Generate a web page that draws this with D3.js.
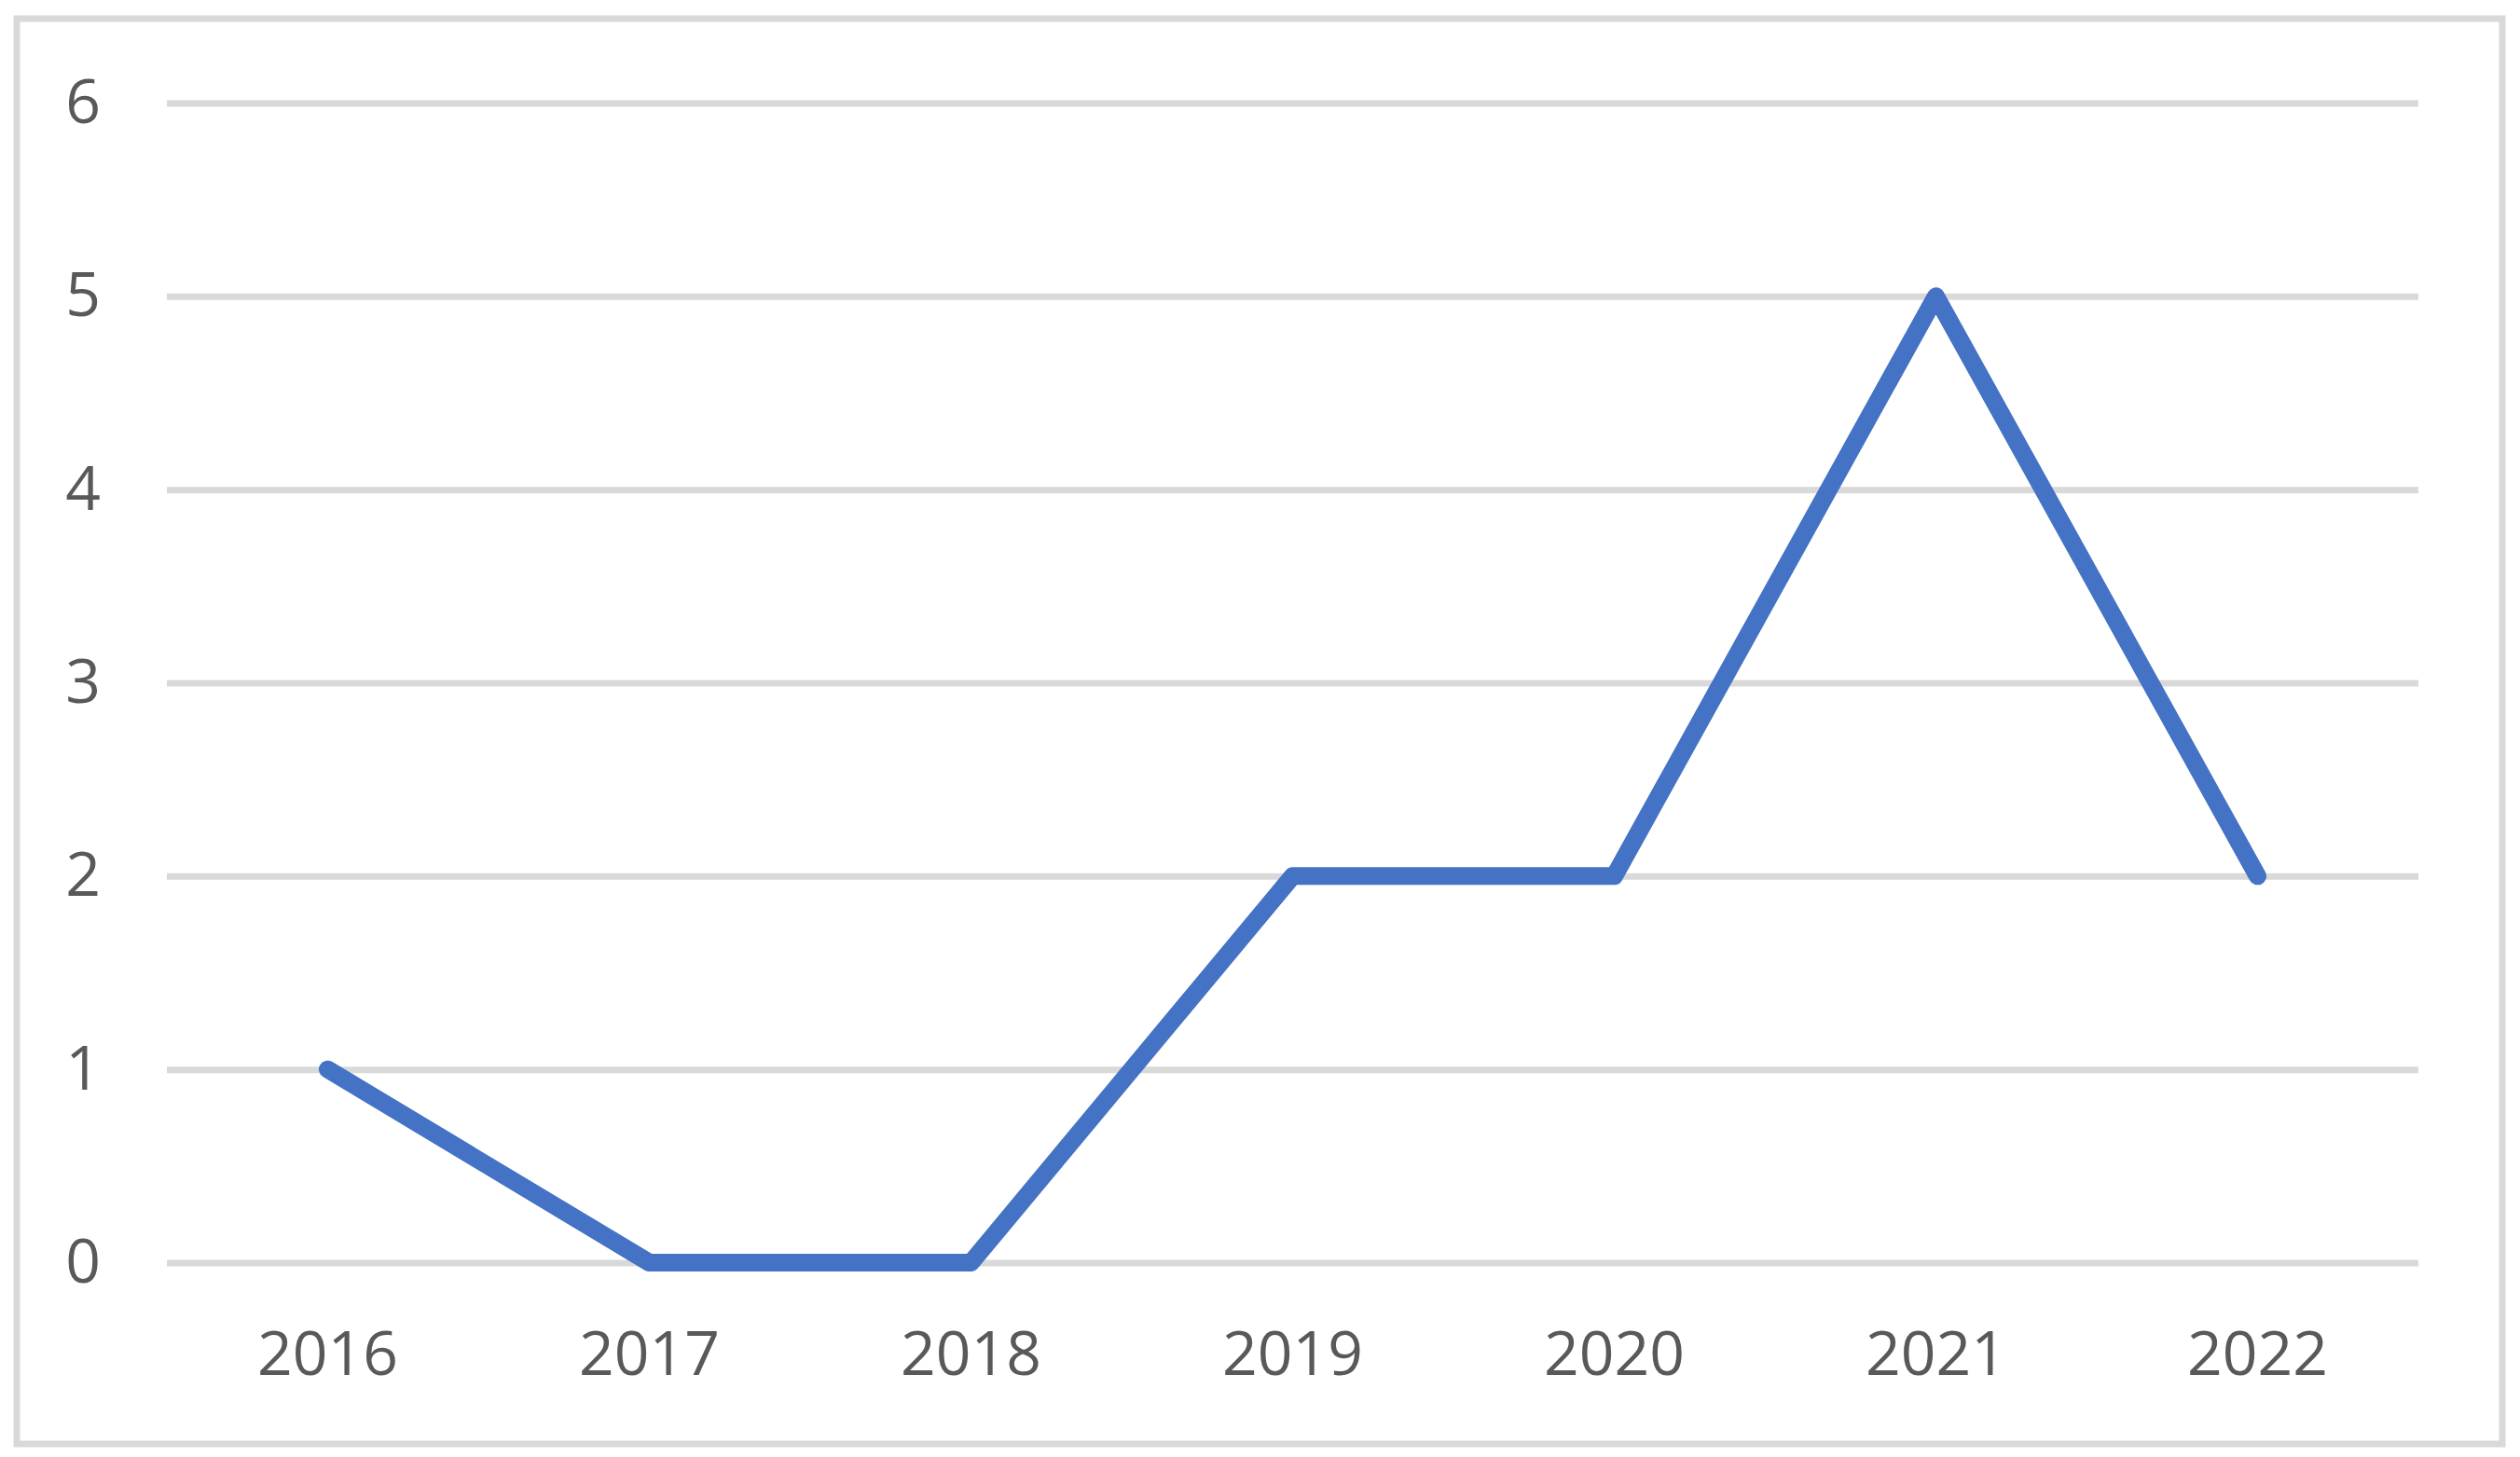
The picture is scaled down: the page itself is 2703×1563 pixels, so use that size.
<!DOCTYPE html>
<html>
<head>
<meta charset="utf-8">
<title>Line chart</title>
<script src="https://d3js.org/d3.v7.min.js"></script>
<style>
body { margin: 0; background: #fff; }
.tick text { font-family: "Open Sans", sans-serif; font-size: 66px; fill: #595959; }
</style>
</head>
<body>
<div id="chart"></div>
<script>
var years = ["2016", "2017", "2018", "2019", "2020", "2021", "2022"];
var values = [1, 0, 0, 2, 2, 5, 2];
var yTicks = [0, 1, 2, 3, 4, 5, 6];

var W = 2703, H = 1563;
var plotLeft = 179, plotRight = 2594, plotTop = 110.5, plotBottom = 1354.5;

var svg = d3.select("#chart").append("svg")
    .attr("width", W)
    .attr("height", H);

// outer frame
svg.append("rect")
    .attr("x", 18).attr("y", 20)
    .attr("width", 2666).attr("height", 1529)
    .attr("fill", "#fff")
    .attr("stroke", "#d9d9d9")
    .attr("stroke-width", 7);

var x = d3.scaleBand().domain(years).range([plotLeft, plotRight]);
var y = d3.scaleLinear().domain([0, 6]).range([plotBottom, plotTop]);

// gridlines + y labels
var yAxis = svg.append("g")
    .attr("transform", "translate(" + plotLeft + ",0)")
    .call(d3.axisLeft(y).tickValues(yTicks).tickSize(-(plotRight - plotLeft)).tickPadding(71).tickFormat(d3.format("d")));
yAxis.select(".domain").remove();
yAxis.selectAll(".tick line").attr("stroke", "#d9d9d9").attr("stroke-width", 7);
yAxis.selectAll(".tick text").attr("dy", "0.32em");

// x labels
var xAxis = svg.append("g")
    .attr("transform", "translate(0," + plotBottom + ")")
    .call(d3.axisBottom(x).tickSize(0).tickPadding(74));
xAxis.select(".domain").remove();

var line = d3.line()
    .x(function(d, i) { return x(years[i]) + x.bandwidth() / 2; })
    .y(function(d) { return y(d); });

svg.append("path")
    .datum(values)
    .attr("d", line)
    .attr("fill", "none")
    .attr("stroke", "#4472c4")
    .attr("stroke-width", 19)
    .attr("stroke-linejoin", "round")
    .attr("stroke-linecap", "round");
</script>
</body>
</html>
